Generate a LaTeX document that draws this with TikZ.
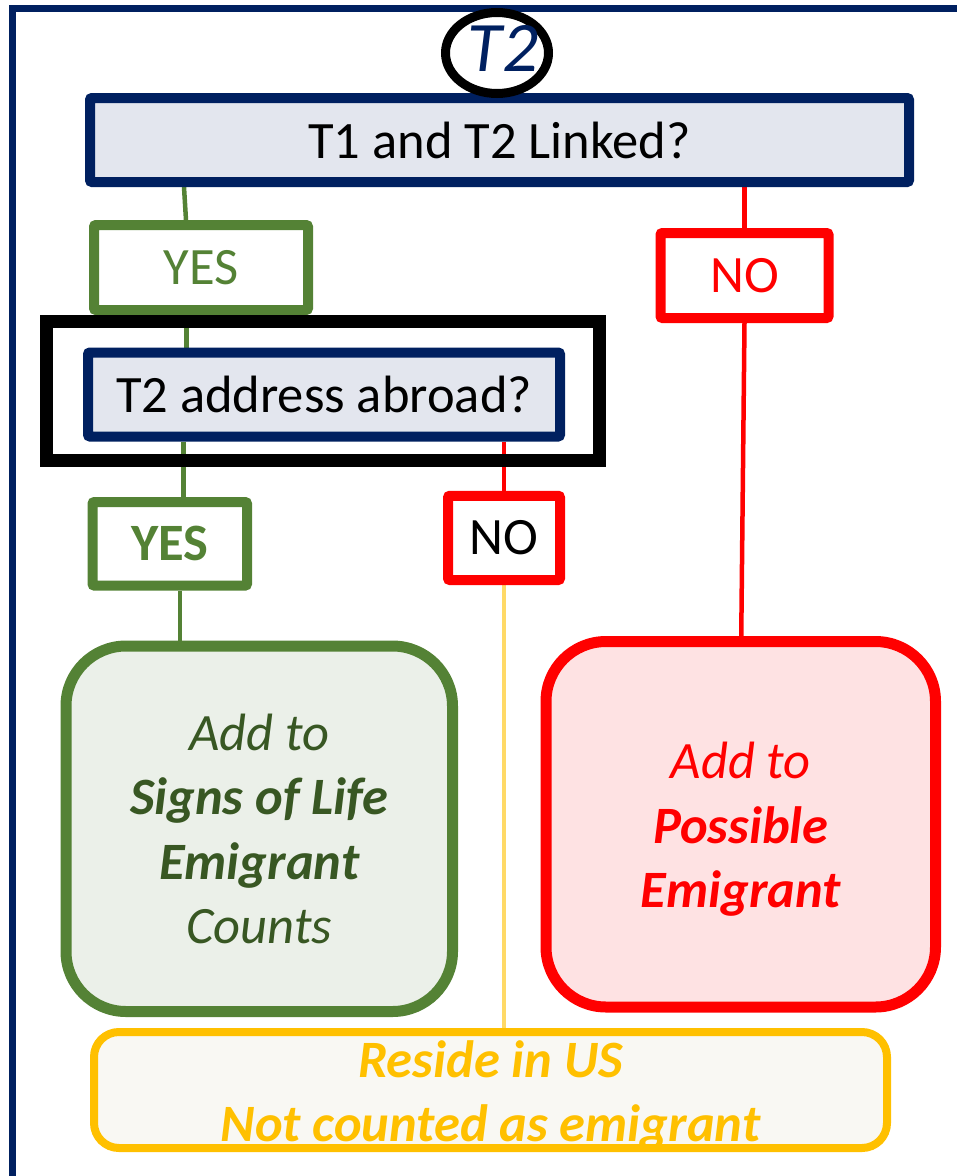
\documentclass[tikz,border=0pt]{standalone}
\usepackage{fontspec}
\setmainfont{Carlito}
\usetikzlibrary{shapes.geometric,backgrounds}
\definecolor{navy}{RGB}{0,32,96}
\definecolor{qfill}{RGB}{227,230,238}
\definecolor{ygreen}{RGB}{84,130,53}
\definecolor{dgreen}{RGB}{56,87,35}
\definecolor{gfill}{RGB}{235,240,233}
\definecolor{xred}{RGB}{255,0,0}
\definecolor{rfill}{RGB}{254,226,227}
\definecolor{xyellow}{RGB}{255,192,0}
\definecolor{yfill}{RGB}{249,248,243}
\definecolor{ylight}{RGB}{255,217,102}
\begin{document}
\begin{tikzpicture}[x=1pt,y=-1pt,
  qbox/.style={draw=navy, fill=qfill, line width=10pt, rounded corners=2pt, inner sep=0pt, font=\fontsize{52.5}{63}\selectfont},
  ansbox/.style={draw=#1, fill=white, line width=10pt, rounded corners=2pt, inner sep=0pt, font=\fontsize{52.5}{63}\selectfont},
  resbox/.style={draw=#1, line width=11pt, rounded corners=60pt, inner sep=0pt},
  restext/.style={align=center, inner sep=0pt, font=\fontsize{52.5}{64.5}\selectfont},
  gline/.style={draw=ygreen, line width=4.5pt},
  rline/.style={draw=xred, line width=4.5pt},
  yline/.style={draw=ylight, line width=4.5pt}
]
\useasboundingbox (0,0) rectangle (957,1176);
\clip (0,0) rectangle (957,1176);

% decision boxes
\node[qbox, minimum width=819pt, minimum height=84pt] (box1) at (499.5,140) {T1 and T2 Linked?};
\node[ansbox=ygreen, text=ygreen, minimum width=214pt, minimum height=85pt] (yes1) at (201,267.5) {YES};
\node[ansbox=xred, text=xred, minimum width=168pt, minimum height=85pt] (no1) at (744.5,275.5) {NO};
\node[draw=black, line width=13pt, minimum width=553.5pt, minimum height=138.5pt, inner sep=0pt] (frame) at (322.75,390.75) {};
\node[qbox, minimum width=472pt, minimum height=84pt] (box2) at (324,394.5) {T2 address abroad?};
\node[ansbox=ygreen, text=ygreen, minimum width=154.5pt, minimum height=83.6pt, font=\fontsize{52.5}{63}\selectfont\bfseries] (yes2) at (169.75,543.8) {YES};
\node[ansbox=xred, text=black, minimum width=112pt, minimum height=84.3pt] (no2) at (504,537.9) {NO};

% result boxes
\node[resbox=ygreen, fill=gfill, minimum width=386.5pt, minimum height=365.5pt] (signs) at (259.25,828.75) {};
\node[restext, text=dgreen] (signstext) at (signs.center) {\itshape Add to\\\bfseries\itshape Signs of Life\\\bfseries\itshape Emigrant\\\itshape Counts};
\node[resbox=xred, fill=rfill, minimum width=389.5pt, minimum height=365.5pt] (possible) at (740.75,824.25) {};
\node[restext, text=xred, yshift=-5pt] (possibletext) at (possible.center) {\itshape Add to\\\bfseries\itshape Possible\\\bfseries\itshape Emigrant};
\node[draw=xyellow, fill=yfill, line width=8pt, rounded corners=25pt, inner sep=0pt, minimum width=793pt, minimum height=116pt] (reside) at (490.5,1090) {};
\node[restext, text=xyellow, font=\fontsize{52.5}{64}\selectfont\bfseries\itshape, yshift=-5pt] (residetext) at (reside.center) {Reside in US\\Not counted as emigrant};

% T2 badge
\node[draw=black, line width=9pt, shape=ellipse, minimum width=103pt, minimum height=81pt, inner sep=0pt] (t2) at (497,53) {};
\node[text=navy, inner sep=0pt, font=\fontsize{71}{80}\selectfont\itshape] (t2text) at (503,48.5) {T2};

% connector helper points
\coordinate (g1t) at ([xshift=-17pt]yes1.north);
\coordinate (g1b) at ([xshift=-15pt]yes1.north);
\coordinate (g2) at ([xshift=-14.5pt]yes1.south);
\coordinate (g3) at ([xshift=13.5pt]yes2.north);
\coordinate (g4) at ([xshift=10pt]yes2.south);

\begin{pgfonlayer}{background}
  \draw[navy, line width=7pt] (975,8.5) -- (12,8.5) -- (12,1185);
  \draw[navy!45, line width=7pt] (12,1179) -- (975,1179);
  \draw[gline] (g1t |- box1.south) -- (g1b);
  \draw[gline] (g2) -- (g2 |- box2.north);
  \draw[gline] (g3 |- box2.south) -- (g3);
  \draw[gline] (g4) -- (g4 |- signs.north);
  \draw[rline] (no1.north |- box1.south) -- (no1.north);
  \draw[rline] (no1.south) -- ([xshift=0.5pt]possible.north);
  \draw[rline] (no2.north |- box2.south) -- (no2.north);
  \draw[yline] (no2.south) -- (no2.south |- reside.north);
\end{pgfonlayer}
\end{tikzpicture}
\end{document}
